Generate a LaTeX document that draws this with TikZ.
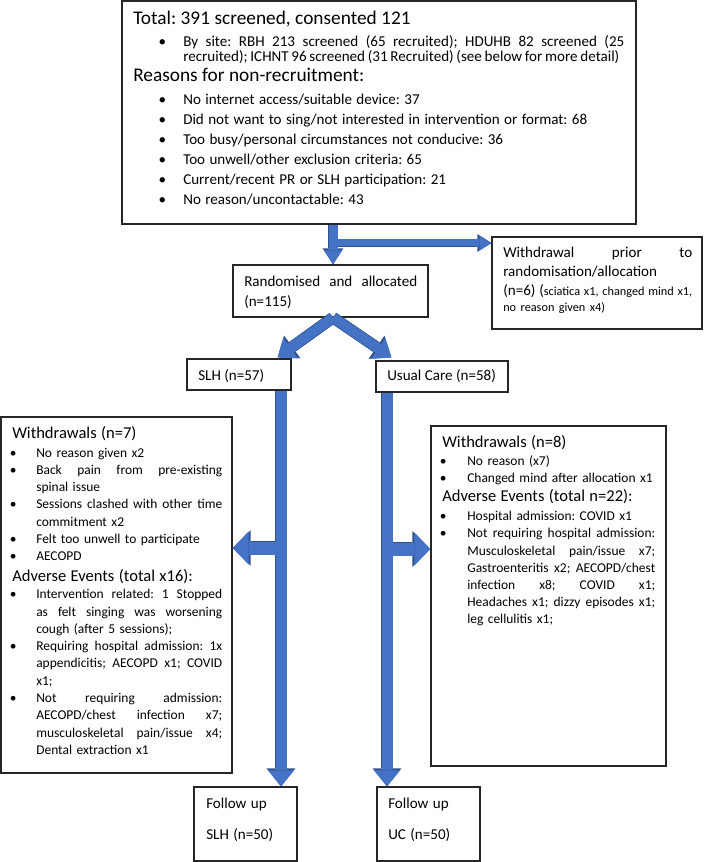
\documentclass[tikz,border=0pt]{standalone}
\usepackage{fontspec}
\setmainfont{Carlito}
\usetikzlibrary{arrows.meta,calc,fit}
\definecolor{abl}{HTML}{4472C4}
\definecolor{aout}{HTML}{2F528F}
\definecolor{bline}{HTML}{262626}
\newlength\xbo \newlength\xbi
\newcommand\xjs[2]{\makebox[#1][s]{\spaceskip=\fontdimen2\font plus 20em minus 0.6\fontdimen2\font\relax #2}}
\newcommand\xBL[1]{\noindent\makebox[\xbi][l]{\hspace*{\xbo}\textbullet}\xjs{\dimexpr\hsize-\xbi\relax}{#1}\par}
\newcommand\xBN[1]{\noindent\makebox[\xbi][l]{\hspace*{\xbo}\textbullet}\mbox{#1}\par}
\newcommand\xCL[1]{\noindent\hspace*{\xbi}\xjs{\dimexpr\hsize-\xbi\relax}{#1}\par}
\newcommand\xCW[2]{\noindent\hspace*{\xbi}\xjs{#1}{#2}\par}
\newcommand\xCN[1]{\noindent\hspace*{\xbi}\mbox{#1}\par}
\newcommand\xHL[1]{\noindent\xjs{\hsize}{#1}\par}
\newcommand\xHN[1]{\noindent\mbox{#1}\par}
\newcommand\xgap[1]{\baselineskip=#1\relax}
\newcommand\xfT{\fontsize{14.5pt}{18pt}\selectfont}
\newcommand\xfB{\fontsize{11.3pt}{15pt}\selectfont}
\newcommand\xfM{\fontsize{11.3pt}{15pt}\selectfont}
\newcommand\xfH{\fontsize{12.4pt}{15pt}\selectfont}
\newcommand\xfS{\fontsize{10.1pt}{13pt}\selectfont}
\newcommand\xfX{\fontsize{9.2pt}{12pt}\selectfont}
\begin{document}
\frenchspacing
\begin{tikzpicture}[x=0.75pt,y=-0.75pt,
  box/.style={draw=bline, line width=0.9pt, fill=white, inner sep=0pt, rectangle},
  txt/.style={anchor=base west, inner sep=0pt, text width=#1,
    execute at begin node={\frenchspacing\lineskiplimit=-100pt\lineskip=0pt\parskip=0pt}},
  lbl/.style={anchor=base west, inner sep=0pt, font=\xfM},
  arrAo/.style={draw=aout, line width=7.95pt, -{Triangle[width=15.5pt,length=12pt,line width=0pt]}},
  arrA/.style={draw=abl, line width=6.75pt, -{Triangle[width=13.5pt,length=10.5pt,line width=0pt]}},
  arrBo/.style={draw=aout, line width=6.45pt, -{Triangle[width=13.25pt,length=10.5pt,line width=0pt]}},
  arrB/.style={draw=abl, line width=5.25pt, -{Triangle[width=11.25pt,length=9pt,line width=0pt]}},
  arrCo/.style={draw=aout, line width=8.7pt, -{Triangle[width=21pt,length=13.5pt,line width=0pt]}},
  arrC/.style={draw=abl, line width=7.5pt, -{Triangle[width=19pt,length=12pt,line width=0pt]}},
  arrDo/.style={draw=aout, line width=9.45pt, -{Triangle[width=21.5pt,length=13.5pt,line width=0pt]}},
  arrD/.style={draw=abl, line width=8.25pt, -{Triangle[width=19.5pt,length=12pt,line width=0pt]}},
  arrEo/.style={draw=aout, line width=10.95pt, -{Triangle[width=26.75pt,length=13.5pt,line width=0pt]}},
  arrE/.style={draw=abl, line width=9.75pt, -{Triangle[width=24.75pt,length=12pt,line width=0pt]}}
]
\useasboundingbox (0,0) rectangle (703,862);
% boxes
\node[box, fit={(122,1) (636,224)}] (top) {};
\node[box, fit={(492,237) (702,329)}] (wd) {};
\node[box, fit={(233,265) (428,317)}] (rand) {};
\node[box, fit={(187,359) (291,390)}] (slh) {};
\node[box, fit={(376,361) (508,392)}] (uc) {};
\node[box, fit={(1,417) (232,773)}] (lbox) {};
\node[box, fit={(431,426) (666,766)}] (rbox) {};
\node[box, fit={(194,787) (297,861)}] (fslh) {};
\node[box, fit={(377,787) (480,861)}] (fuc) {};
% texts
\node[txt=368.25pt] (toptext) at (133,25) {%
{\xfT\xHN{Total: 391 screened, consented 121}}
\xfB\setlength\xbo{19pt}\setlength\xbi{37.5pt}%
\xgap{16.5pt}\xBL{By site: RBH 213 screened (65 recruited); HDUHB 82 screened (25}
\xgap{11.25pt}\xCW{327pt}{recruited); ICHNT 96 screened (31 Recruited) (see below for more detail)}
{\xfT\xgap{15pt}\xHN{Reasons for non-recruitment:}}
\xgap{17.25pt}\xBN{No internet access/suitable device: 37}
\xgap{15pt}\xBN{Did not want to sing/not interested in intervention or format: 68}
\xBN{Too busy/personal circumstances not conducive: 36}
\xBN{Too unwell/other exclusion criteria: 65}
\xBN{Current/recent PR or SLH participation: 21}
\xBN{No reason/uncontactable: 43}};
\node[txt=141.75pt] (wdtext) at (503,258) {%
\xfM\xHL{Withdrawal prior to}
\xgap{14.25pt}\xHN{randomisation/allocation}
\xHL{(n=6) ({\xfX sciatica x1, changed mind x1,}}
{\xfX\xgap{12pt}\xHN{no reason given x4)}}};
\node[txt=129.75pt] (randtext) at (244,287) {%
\xfM\xHL{Randomised and allocated}
\xgap{15pt}\xHN{(n=115)}};
\node[lbl] (slhtext) at (198,380) {SLH (n=57)};
\node[lbl] (uctext) at (387,380) {Usual Care (n=58)};
\node[txt=157.5pt] (ltext) at (12,438) {%
\setlength\xbo{-1.8pt}\setlength\xbi{18pt}%
{\xfH\xHN{Withdrawals (n=7)}}
\xfS
\xgap{14.25pt}\xBN{No reason given x2}
\xgap{12.97pt}\xBL{Back pain from pre-existing}
\xCN{spinal issue}
\xBL{Sessions clashed with other time}
\xCN{commitment x2}
\xBN{Felt too unwell to participate}
\xBN{AECOPD}
{\xfH\xgap{15.75pt}\xHN{Adverse Events (total x16):}}
\xgap{12.75pt}\xBL{Intervention related: 1 Stopped}
\xgap{12.97pt}\xCL{as felt singing was worsening}
\xCN{cough (after 5 sessions);}
\xBL{Requiring hospital admission: 1x}
\xCL{appendicitis; AECOPD x1; COVID}
\xCN{x1;}
\xBL{Not requiring admission:}
\xCL{AECOPD/chest infection x7;}
\xCL{musculoskeletal pain/issue x4;}
\xCN{Dental extraction x1}};
\node[txt=159.75pt] (rtext) at (442,447) {%
\setlength\xbo{-1.8pt}\setlength\xbi{18.75pt}%
{\xfH\xHN{Withdrawals (n=8)}}
\xfS
\xgap{13.5pt}\xBN{No reason (x7)}
\xgap{12.75pt}\xBN{Changed mind after allocation x1}
{\xfH\xgap{14.25pt}\xHN{Adverse Events (total n=22):}}
\xgap{14.75pt}\xBN{Hospital admission: COVID x1}
\xgap{12.9pt}\xBL{Not requiring hospital admission:}
\xCL{Musculoskeletal pain/issue x7;}
\xCL{Gastroenteritis x2; AECOPD/chest}
\xCL{infection x8; COVID x1;}
\xCL{Headaches x1; dizzy episodes x1;}
\xCN{leg cellulitis x1;}};
\node[txt=80pt] (fslhtext) at (206,808) {%
\xfM\xHN{Follow up}\xgap{23.25pt}\xHN{SLH (n=50)}};
\node[txt=80pt] (fuctext) at (388,808) {%
\xfM\xHN{Follow up}\xgap{23.25pt}\xHN{UC (n=50)}};
% connectors
\coordinate (c1) at (333,243);
\coordinate (c2) at (281,548);
\coordinate (c3) at (387,549);
\coordinate (tl) at ($(slh.north east)+(-14,-1)$);
\coordinate (tr) at ($(uc.north west)+(16,-3)$);
\draw[arrAo] (top.south -| c1) -- (rand.north -| c1);
\draw[arrBo] (c1) -- (c1 -| wd.west);
\draw[arrCo] (rand.south -| c1) -- (tl);
\draw[arrCo] (rand.south -| c1) -- (tr);
\draw[arrDo] (slh.south -| c2) -- (fslh.north -| c2);
\draw[arrDo] (uc.south -| c3) -- (fuc.north -| c3);
\draw[arrEo] (c2) -- (c2 -| lbox.east);
\draw[arrEo] (c3) -- (c3 -| rbox.west);
\draw[arrA] (top.south -| c1) -- (rand.north -| c1);
\draw[arrB] (c1) -- (c1 -| wd.west);
\draw[arrC] (rand.south -| c1) -- (tl);
\draw[arrC] (rand.south -| c1) -- (tr);
\draw[arrD] (slh.south -| c2) -- (fslh.north -| c2);
\draw[arrD] (uc.south -| c3) -- (fuc.north -| c3);
\draw[arrE] (c2) -- (c2 -| lbox.east);
\draw[arrE] (c3) -- (c3 -| rbox.west);
\end{tikzpicture}
\end{document}
